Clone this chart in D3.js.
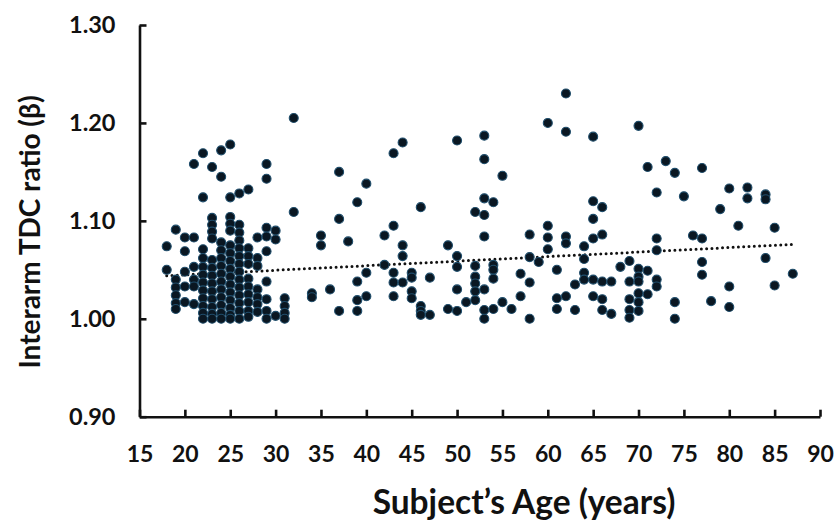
<!DOCTYPE html>
<html><head><meta charset="utf-8">
<script src="https://cdn.jsdelivr.net/npm/d3@7"></script>
<style>
html,body{margin:0;padding:0;background:#fff;}
svg{display:block;}
text{font-family:Lato,"Open Sans",sans-serif;font-weight:700;fill:#111;}
</style></head>
<body>
<svg id="chart" width="836" height="521"></svg>
<script>
// ---- Data ----
const xTicks = [15,20,25,30,35,40,45,50,55,60,65,70,75,80,85,90];
const yTicks = [0.90,1.00,1.10,1.20,1.30];
const ageGroups = [18,19,20,21,22,23,24,25,26,27,28,29,30,31,32,34,35,36,37,38,39,40,42,43,44,45,46,47,49,50,51,52,53,54,55,56,57,58,59,60,61,62,63,64,65,66,67,68,69,70,71,72,73,74,75,76,77,78,79,80,81,82,84,85,87];
const ratiosByAge = [
  [1.074,1.050],
  [1.091,1.040,1.032,1.024,1.016,1.010],
  [1.083,1.069,1.048,1.033,1.017],
  [1.158,1.083,1.053,1.040,1.033,1.015],
  [1.169,1.124,1.071,1.062,1.053,1.045,1.037,1.029,1.021,1.013,1.006,1.000],
  [1.155,1.103,1.096,1.089,1.082,1.060,1.052,1.044,1.036,1.028,1.020,1.012,1.005,1.000],
  [1.172,1.145,1.078,1.070,1.062,1.054,1.046,1.038,1.030,1.022,1.014,1.006,1.000],
  [1.178,1.124,1.104,1.097,1.090,1.075,1.067,1.059,1.051,1.043,1.035,1.027,1.019,1.011,1.004,1.000],
  [1.128,1.096,1.088,1.080,1.072,1.064,1.056,1.048,1.040,1.032,1.024,1.016,1.008,1.000],
  [1.132,1.072,1.064,1.056,1.041,1.033,1.025,1.017,1.008,1.002],
  [1.083,1.062,1.054,1.030,1.022,1.015,1.007],
  [1.158,1.143,1.093,1.084,1.069,1.038,1.020,1.008,1.000],
  [1.090,1.081,1.003],
  [1.021,1.013,1.006,1.000],
  [1.205,1.109],
  [1.026,1.022],
  [1.085,1.075],
  [1.030],
  [1.150,1.102,1.008],
  [1.079],
  [1.119,1.038,1.019,1.008],
  [1.138,1.047,1.023],
  [1.085,1.055],
  [1.169,1.095,1.047,1.037,1.023],
  [1.180,1.075,1.064,1.037],
  [1.047,1.042,1.028,1.021],
  [1.114,1.013,1.008,1.004],
  [1.042,1.004],
  [1.075,1.010],
  [1.182,1.064,1.053,1.030,1.008],
  [1.017],
  [1.109,1.054,1.043,1.036,1.028,1.019],
  [1.187,1.163,1.123,1.106,1.084,1.030,1.009,1.000],
  [1.119,1.055,1.050,1.041,1.010],
  [1.146,1.017],
  [1.010],
  [1.046,1.023],
  [1.086,1.063,1.037,1.000],
  [1.058],
  [1.200,1.095,1.083,1.071],
  [1.050,1.021,1.010],
  [1.230,1.191,1.084,1.077,1.023],
  [1.035,1.009],
  [1.074,1.061,1.047,1.040],
  [1.186,1.120,1.102,1.082,1.040,1.023],
  [1.114,1.086,1.038,1.020,1.009],
  [1.038,1.005],
  [1.053],
  [1.059,1.038,1.020,1.009,1.001],
  [1.197,1.051,1.043,1.038,1.026,1.017,1.008],
  [1.155,1.049,1.025],
  [1.129,1.082,1.070,1.040,1.033],
  [1.161],
  [1.149,1.017,1.000],
  [1.125],
  [1.085],
  [1.154,1.082,1.058,1.045],
  [1.018],
  [1.112],
  [1.133,1.033,1.012],
  [1.095],
  [1.134,1.123],
  [1.127,1.122,1.062],
  [1.093,1.034],
  [1.046]
];
// dotted linear trend line: start/end ages and values
const trendAges = [18, 87];
const trendValues = [1.044, 1.076];

const xTitle = "Subject\u2019s Age (years)";
const yTitle = "Interarm TDC ratio (\u03b2)";

// ---- Drawing ----
const points = [];
ageGroups.forEach((a,i)=>ratiosByAge[i].forEach(v=>points.push({age:a,v:v})));

const svg = d3.select("#chart");
const x = d3.scaleLinear().domain([15,90]).range([139.5,820]);
const y = d3.scaleLinear().domain([0.9,1.3]).range([416.7,25]);

// axes
const xAxis = d3.axisBottom(x).tickValues(xTicks).tickSizeInner(-7).tickSizeOuter(0).tickPadding(26).tickFormat(d3.format("d"));
const gx = svg.append("g").attr("transform",`translate(0,${y(0.9)})`).call(xAxis);
const yAxis = d3.axisLeft(y).tickValues(yTicks).tickSizeInner(-7).tickSizeOuter(0).tickPadding(24).tickFormat(d3.format(".2f"));
const gy = svg.append("g").attr("transform",`translate(${x(15)},0)`).call(yAxis);
[gx,gy].forEach(g=>{
  g.select(".domain").attr("stroke","#111").attr("stroke-width",2.6);
  g.selectAll(".tick line").attr("stroke","#111").attr("stroke-width",2.6);
  g.selectAll(".tick text").attr("font-family","Lato, 'Open Sans', sans-serif").attr("font-weight",700).attr("fill","#111");
});
gx.selectAll(".tick text").attr("font-size",23).attr("dy","0.85em");
gy.selectAll(".tick text").attr("font-size",23.5);

// trend line
svg.append("path")
  .datum(trendAges.map((a,i)=>({age:a,v:trendValues[i]})))
  .attr("d",d3.line().x(d=>x(d.age)).y(d=>y(d.v)))
  .attr("fill","none").attr("stroke","#111").attr("stroke-width",3)
  .attr("stroke-dasharray","0,5.3").attr("stroke-linecap","round");

// points
svg.append("g").selectAll("circle").data(points).join("circle")
  .attr("cx",d=>x(d.age)).attr("cy",d=>y(d.v)).attr("r",4.5)
  .attr("fill","#0a1722").attr("stroke","#1f4d6b").attr("stroke-width",1.1);

// titles
svg.append("text").attr("x",524).attr("y",514).attr("text-anchor","middle")
  .attr("font-size",33.5).text(xTitle);
svg.append("text").attr("transform","translate(40,232) rotate(-90)").attr("text-anchor","middle")
  .attr("font-size",28).text(yTitle);
</script>
</body></html>
